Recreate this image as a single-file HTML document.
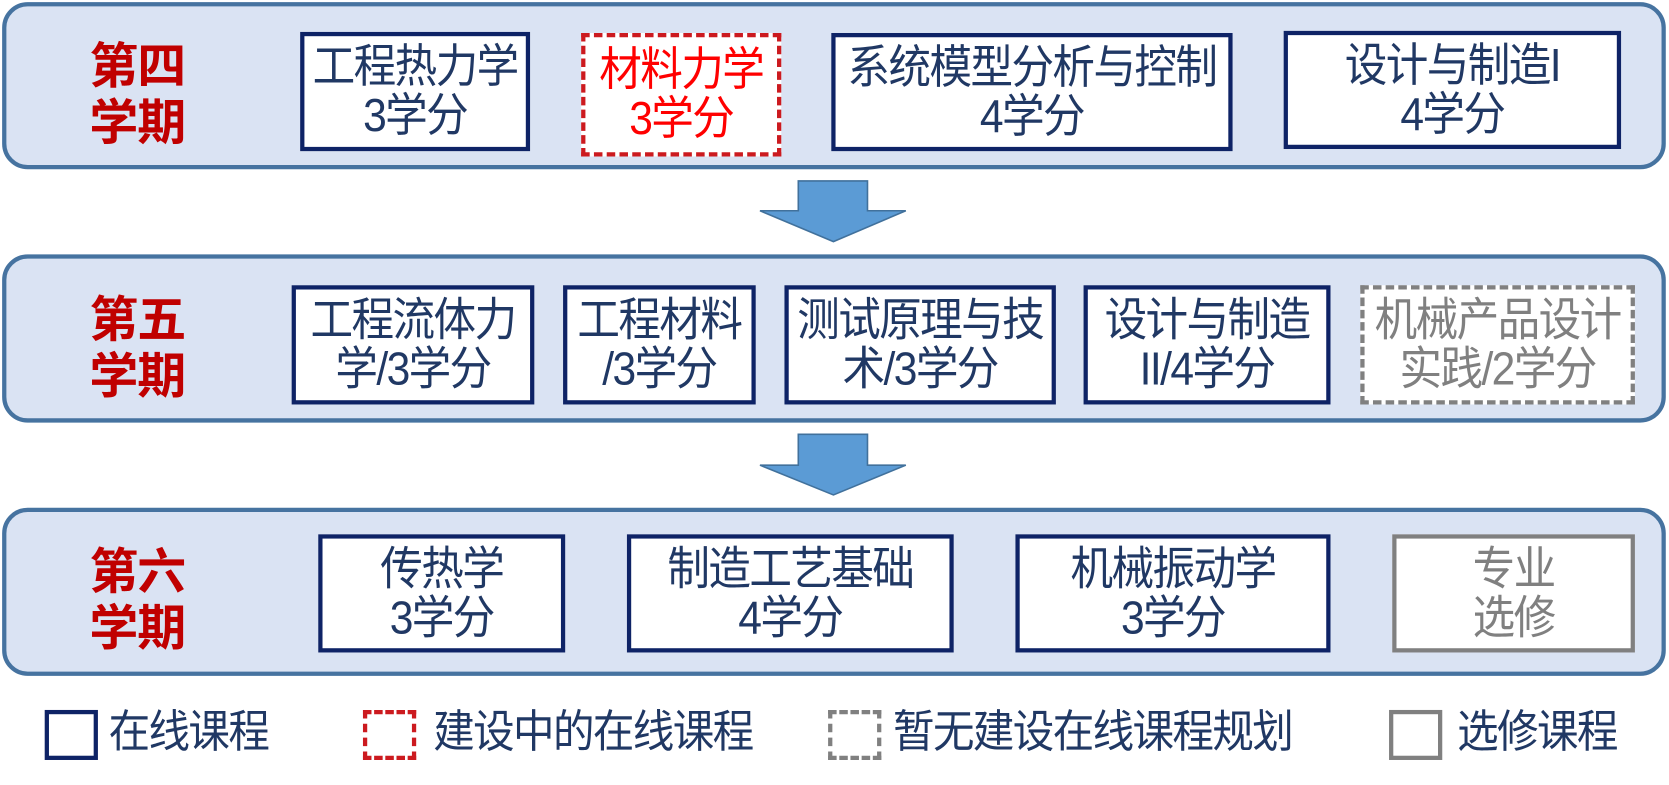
<!DOCTYPE html>
<html><head><meta charset="utf-8"><style>
html,body{margin:0;padding:0;background:#fff;width:1669px;height:785px;overflow:hidden}
#s{position:absolute;left:0;top:0;width:1568px;height:737px;transform:scale(1.0644);transform-origin:0 0;font-family:"Liberation Sans","Noto Sans CJK SC",sans-serif}
.p{position:absolute;left:2px;width:1563px;background:#dae3f3;border:4px solid #4673a0;border-radius:24px;box-sizing:border-box}
.lab{position:absolute;left:84px;width:100px;color:#c00000;font-weight:bold;font-size:46px;line-height:53px;letter-spacing:-1px}
.b{position:absolute;box-sizing:border-box;background:#fff;border:4px solid #0e2366;color:#203864;font-size:40px;line-height:46px;display:flex;flex-direction:column;align-items:center;justify-content:center;text-align:center;white-space:nowrap;letter-spacing:-1.5px}
.b div{transform:scaleY(1.08)}
.r{border:4px dashed #cc1a1f;color:#ff0000}
.g{border:4px dashed #808080;color:#808080}
.gs{border:4px solid #808080;color:#808080}
.lg{position:absolute;top:667px;height:47px;width:50px;box-sizing:border-box;background:#fff}
.lt{position:absolute;top:664px;font-size:39px;line-height:50px;color:#203864;letter-spacing:-1.5px;white-space:nowrap;transform:scaleY(1.08)}
</style></head><body><div id="s">
<div class="p" style="top:2px;height:157px"></div>
<div class="p" style="top:239px;height:158px"></div>
<div class="p" style="top:477px;height:158px"></div>
<div class="lab" style="top:36px">第四<br>学期</div>
<div class="lab" style="top:274px">第五<br>学期</div>
<div class="lab" style="top:511px">第六<br>学期</div>

<div class="b" style="left:282px;top:30px;width:216px;height:112px"><div>工程热力学</div><div>3学分</div></div>
<div class="b r" style="left:546px;top:31px;width:188px;height:116px"><div>材料力学</div><div>3学分</div></div>
<div class="b" style="left:781px;top:31px;width:377px;height:111px"><div>系统模型分析与控制</div><div>4学分</div></div>
<div class="b" style="left:1206px;top:29px;width:317px;height:111px"><div>设计与制造I</div><div>4学分</div></div>

<div class="b" style="left:274px;top:268px;width:228px;height:112px"><div>工程流体力</div><div>学/3学分</div></div>
<div class="b" style="left:529px;top:268px;width:181px;height:112px"><div>工程材料</div><div>/3学分</div></div>
<div class="b" style="left:737px;top:268px;width:255px;height:112px"><div>测试原理与技</div><div>术/3学分</div></div>
<div class="b" style="left:1018px;top:268px;width:232px;height:112px"><div>设计与制造</div><div>II/4学分</div></div>
<div class="b g" style="left:1278px;top:268px;width:258px;height:112px"><div>机械产品设计</div><div>实践/2学分</div></div>

<div class="b" style="left:299px;top:502px;width:232px;height:111px"><div>传热学</div><div>3学分</div></div>
<div class="b" style="left:589px;top:502px;width:307px;height:111px"><div>制造工艺基础</div><div>4学分</div></div>
<div class="b" style="left:954px;top:502px;width:296px;height:111px"><div>机械振动学</div><div>3学分</div></div>
<div class="b gs" style="left:1308px;top:502px;width:228px;height:111px"><div>专业</div><div>选修</div></div>

<svg style="position:absolute;left:0;top:0" width="1568" height="737">
<polygon points="750,170 815,170 815,198 851,198 783,227 714,198 750,198" fill="#5b9bd5" stroke="#41719c" stroke-width="1.5"/>
<polygon points="750,408 815,408 815,437 851,437 783,465 714,437 750,437" fill="#5b9bd5" stroke="#41719c" stroke-width="1.5"/>
</svg>

<div class="lg" style="left:42px;border:4px solid #0e2366"></div>
<div class="lt" style="left:102px">在线课程</div>
<div class="lg" style="left:341px;border:4px dashed #cc1a1f"></div>
<div class="lt" style="left:407px">建设中的在线课程</div>
<div class="lg" style="left:778px;border:4px dashed #808080"></div>
<div class="lt" style="left:839px">暂无建设在线课程规划</div>
<div class="lg" style="left:1305px;border:4px solid #808080"></div>
<div class="lt" style="left:1369px">选修课程</div>
</div></body></html>
